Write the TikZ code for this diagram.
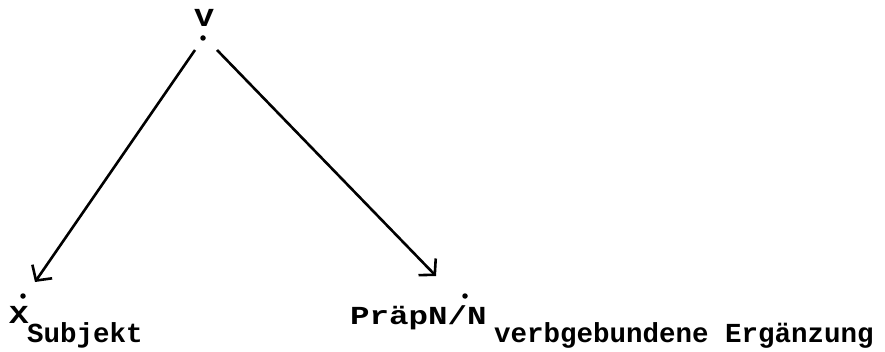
\documentclass[tikz,border=0pt]{standalone}
\usepackage{fontspec}
\setmainfont{Liberation Mono}
\usetikzlibrary{arrows.meta}
\newcommand{\wide}[1]{\scalebox{1.25}[1]{#1}}
\tikzset{
  lbl/.style={inner sep=0pt, anchor=base west, font=\fontsize{26}{26}\selectfont\bfseries},
  sublbl/.style={inner sep=0pt, anchor=base west, font=\fontsize{27.5}{27.5}\selectfont\bfseries},
  dotmark/.style={circle, fill=black, inner sep=0pt, minimum size=5.5pt},
  arr/.style={line width=2.6pt, -{Straight Barb[length=11pt,width=24pt,line width=2.6pt]}}
}
\begin{document}
\begin{tikzpicture}[x=1pt,y=1pt]
\useasboundingbox (0,0) rectangle (885,351);
% top node
\node[lbl, anchor=base] (v) at (204,324) {\wide{V}};
\node[dotmark] (vdot) at (203,313) {};
% left node
\node[lbl] (x) at (9,28) {\wide{X}};
\node[dotmark] (xdot) at (23,55) {};
\node[sublbl] (xsub) at (27,9) {Subjekt};
% right node
\node[lbl] (p) at (350,27) {\wide{PräpN/N}};
\node[dotmark] (pdot) at (465,55) {};
\node[sublbl] (psub) at (494,9) {verbgebundene Ergänzung};
% arrow ends
\coordinate (l1) at (195,301);
\coordinate (l2) at (35,69);
\coordinate (r1) at (217,301);
\coordinate (r2) at (436,75);
\draw[arr] (l1) -- (l2);
\draw[arr] (r1) -- (r2);
\end{tikzpicture}
\end{document}
